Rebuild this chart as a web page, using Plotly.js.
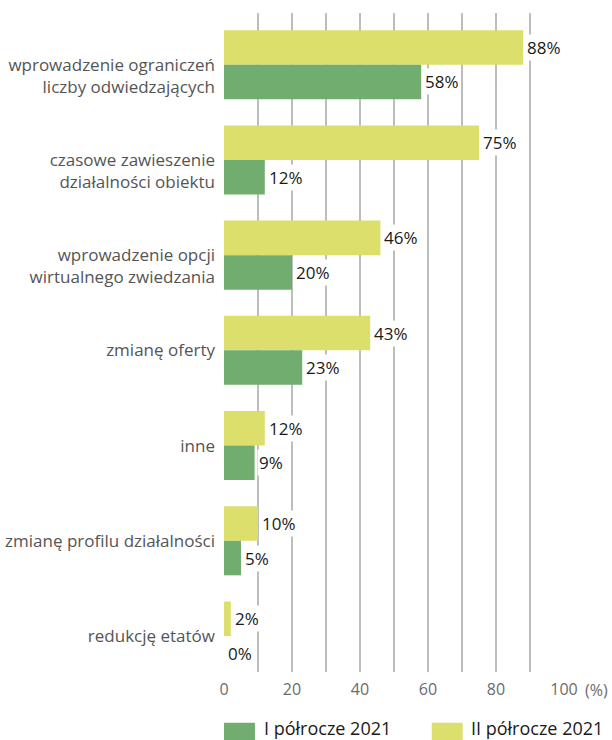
<!DOCTYPE html>
<html>
<head>
<meta charset="utf-8">
<script src="https://cdn.plot.ly/plotly-3.0.1.min.js"></script>
<style>
  html, body { margin: 0; padding: 0; background: #fff; }
  #chart { width: 612px; height: 740px; }
</style>
</head>
<body>
<div id="chart"></div>
<script>
// Measures taken by museums, two half-years of 2021 (% of institutions)
const categories = [
  ['wprowadzenie ograniczeń', 'liczby odwiedzających'],
  ['czasowe zawieszenie', 'działalności obiektu'],
  ['wprowadzenie opcji', 'wirtualnego zwiedzania'],
  ['zmianę oferty'],
  ['inne'],
  ['zmianę profilu działalności'],
  ['redukcję etatów']
];
const firstHalf = [58, 12, 20, 23, 9, 5, 0];
const secondHalf = [88, 75, 46, 43, 12, 10, 2];
const seriesNames = ['I półrocze 2021', 'II półrocze 2021'];
const seriesColors = ['#70ad6f', '#dcdf6b'];
const xTickVals = [0, 10, 20, 30, 40, 50, 60, 70, 80, 90, 100];
const xTickText = ['0', '', '20', '', '40', '', '60', '', '80', '', '100'];
const xUnit = '(%)';

const FONT = '"Open Sans", "DejaVu Sans", sans-serif';
const catKeys = categories.map(c => c.join(' '));
// two-line labels keep their first line level with the bar pair's middle
const catLabels = categories.map(c => c.length > 1 ? '<br>' + c.join('<br>') : c[0]);

const barHalf = 0.181; // offset of each bar centre inside its category

const traces = [
  {
    type: 'bar', orientation: 'h', name: seriesNames[1],
    x: secondHalf, y: catKeys,
    marker: { color: seriesColors[1] }, hoverinfo: 'skip', showlegend: false
  },
  {
    type: 'bar', orientation: 'h', name: seriesNames[0],
    x: firstHalf, y: catKeys,
    marker: { color: seriesColors[0] }, hoverinfo: 'skip', showlegend: false
  }
];

const annotations = [];
catKeys.forEach((k, i) => {
  [[secondHalf[i], -barHalf], [firstHalf[i], barHalf]].forEach(([v, off]) => {
    annotations.push({
      x: v, y: i + off, xref: 'x', yref: 'y',
      text: v + '%', showarrow: false,
      xanchor: 'left', yanchor: 'middle', xshift: 2,
      bgcolor: '#ffffff', borderpad: 1,
      font: { family: FONT, size: 17, color: '#1a1a1a' }
    });
  });
});

// unit after the last tick label
annotations.push({
  x: 100, y: -0.0275, xref: 'x', yref: 'paper',
  text: xUnit, showarrow: false, xanchor: 'left', yanchor: 'middle', xshift: 19,
  font: { family: FONT, size: 16, color: '#6b6b6b' }
});

// legend: wide swatches with labels underneath the plot
const legendPos = [
  { x0: 0.0, x1: 0.091, tx: 0.113 },
  { x0: 0.611, x1: 0.702, tx: 0.722 }
];
const shapes = [];
[0, 1].forEach(s => {
  const p = legendPos[s];
  shapes.push({
    type: 'rect', xref: 'paper', yref: 'paper',
    x0: p.x0, x1: p.x1, y0: -0.077, y1: -0.106,
    fillcolor: seriesColors[s], line: { width: 0 }
  });
  annotations.push({
    x: p.tx, y: -0.0855, xref: 'paper', yref: 'paper',
    text: seriesNames[s], showarrow: false, xanchor: 'left', yanchor: 'middle',
    font: { family: FONT, size: 18, color: '#1a1a1a' }
  });
});

const layout = {
  width: 612, height: 740,
  margin: { l: 224, r: 48, t: 13, b: 68, pad: 0 },
  paper_bgcolor: '#ffffff', plot_bgcolor: '#ffffff',
  barmode: 'group', bargap: 0.275, bargroupgap: 0,
  showlegend: false,
  font: { family: FONT },
  xaxis: {
    range: [0, 100], tickmode: 'array', tickvals: xTickVals, ticktext: xTickText,
    showgrid: true, gridcolor: '#bdbdbd', gridwidth: 2,
    zeroline: false, showline: false, ticks: '',
    ticklabelstandoff: 6,
    tickfont: { family: FONT, size: 16, color: '#6b6b6b' },
    fixedrange: true
  },
  yaxis: {
    type: 'category', categoryorder: 'array', categoryarray: catKeys,
    range: [6.378, -0.543],
    tickmode: 'array', tickvals: catKeys, ticktext: catLabels,
    showgrid: false, zeroline: false, showline: false, ticks: '',
    ticklabelstandoff: 8,
    tickfont: { family: FONT, size: 17, color: '#555555' },
    fixedrange: true
  },
  shapes: shapes,
  annotations: annotations
};

Plotly.newPlot('chart', traces, layout, { displayModeBar: false, staticPlot: true });
</script>
</body>
</html>
